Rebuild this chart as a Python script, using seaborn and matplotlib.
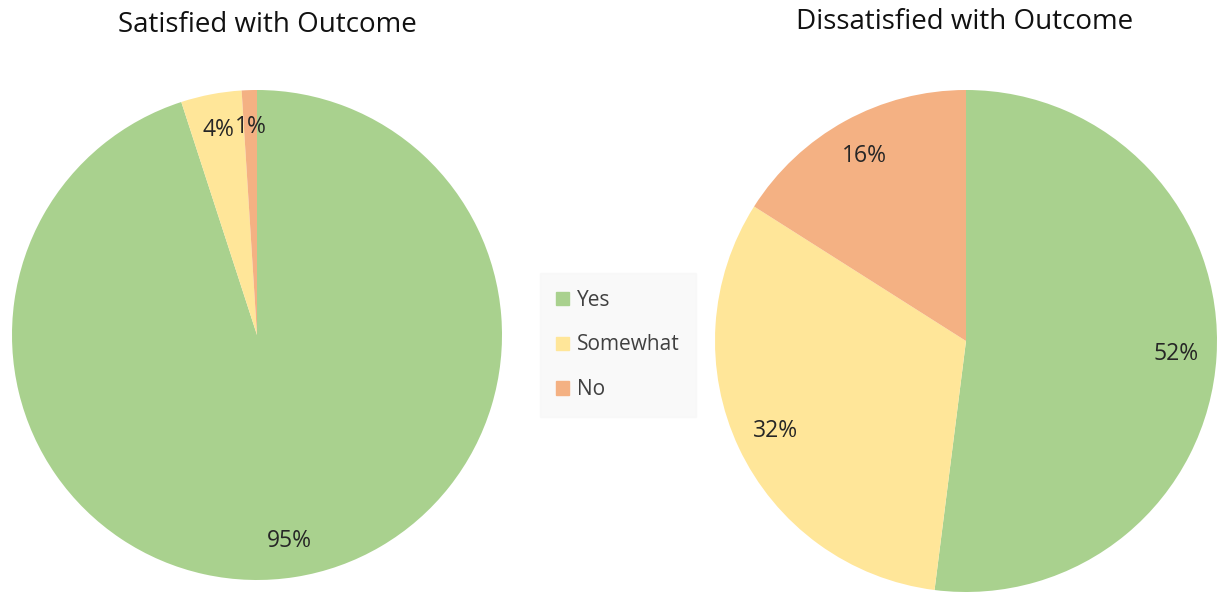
import matplotlib
matplotlib.use("Agg")
import matplotlib.pyplot as plt
import seaborn as sns

# data
categories = ["Yes", "Somewhat", "No"]
satisfied = [95, 4, 1]
dissatisfied = [52, 32, 16]
titles = ["Satisfied with Outcome", "Dissatisfied with Outcome"]

sns.set_theme(style="white")
plt.rcParams['font.family'] = ['Open Sans', 'DejaVu Sans']
colors = sns.color_palette(["#A9D18E", "#FFE699", "#F4B183"])

W, H = 1222, 592
fig = plt.figure(figsize=(W / 100, H / 100), dpi=100)

# axes placed in pixel units (left, bottom, size)
ax1 = fig.add_axes([12 / W, 12 / H, 490 / W, 490 / H])
ax2 = fig.add_axes([715 / W, 0 / H, 502 / W, 502 / H])

for ax, vals, pctd in [(ax1, satisfied, 0.85), (ax2, dissatisfied, 0.84)]:
    wedges, texts, autotexts = ax.pie(
        vals, colors=colors, startangle=90, counterclock=False,
        autopct="%d%%", pctdistance=pctd,
        wedgeprops={"linewidth": 0},
        textprops={"fontsize": 16.5, "color": "#262626"},
    )
    ax.set_xlim(-1, 1)
    ax.set_ylim(-1, 1)
    ax.set_aspect("equal")

fig.text(267 / W, 1 - 25 / H, titles[0], ha="center", va="center", fontsize=20, color="#111111")
fig.text(965 / W, 1 - 22 / H, titles[1], ha="center", va="center", fontsize=20, color="#111111")

handles = [plt.Rectangle((0, 0), 1, 1, color=c) for c in colors]
leg = fig.legend(handles, categories, loc="center", bbox_to_anchor=(618 / W, 1 - 345 / H),
                 frameon=True, fontsize=15, handlelength=0.6, handleheight=0.6,
                 labelspacing=1.15, borderpad=0.8, handletextpad=0.4, fancybox=False,
                 labelcolor="#404040")
leg.get_frame().set_facecolor("#F8F8F8")
leg.get_frame().set_edgecolor("#F8F8F8")

fig.savefig("out.png", dpi=100)
